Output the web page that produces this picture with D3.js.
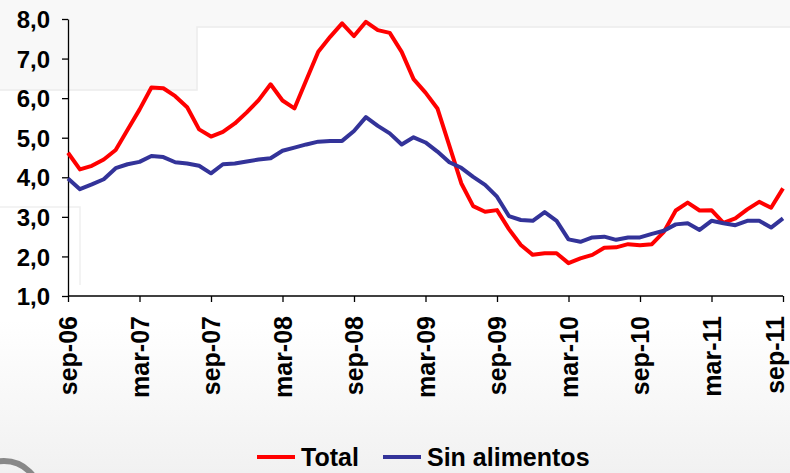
<!DOCTYPE html>
<html><head><meta charset="utf-8">
<script src="https://cdn.jsdelivr.net/npm/d3@7"></script>
<style>body{margin:0;background:#fff}svg{display:block}text{font-family:"Liberation Sans",Arial,sans-serif;font-weight:bold;fill:#000}</style>
</head><body><div id="c"></div>
<script>
const months = ["ene","feb","mar","abr","may","jun","jul","ago","sep","oct","nov","dic"];
const startYear = 2006, startMonth = 8; // sep-06
const total = [4.62,4.20,4.29,4.45,4.69,5.20,5.71,6.27,6.25,6.05,5.77,5.21,5.03,5.15,5.36,5.64,5.95,6.35,5.94,5.74,
  6.46,7.17,7.55,7.89,7.57,7.93,7.72,7.65,7.17,6.48,6.14,5.74,4.80,3.85,3.27,3.13,3.17,2.69,2.29,2.04,
  2.08,2.08,1.83,1.95,2.04,2.22,2.23,2.31,2.28,2.31,2.62,3.16,3.36,3.16,3.17,2.85,2.96,3.19,3.38,3.23,3.72];
const sinAlimentos = [3.97,3.70,3.82,3.95,4.23,4.33,4.39,4.54,4.51,4.38,4.35,4.29,4.10,4.33,4.35,4.40,4.45,4.48,4.67,4.75,
  4.83,4.90,4.92,4.92,5.17,5.52,5.30,5.11,4.83,5.01,4.88,4.65,4.38,4.24,4.01,3.81,3.51,3.02,2.92,2.90,
  3.12,2.90,2.43,2.37,2.48,2.50,2.42,2.48,2.48,2.57,2.65,2.81,2.84,2.67,2.90,2.84,2.79,2.90,2.90,2.73,2.96];
const categories = total.map((d,i)=>{const m=(startMonth+i)%12, y=startYear+Math.floor((startMonth+i)/12);return months[m]+"-"+String(y%100).padStart(2,"0");});
const xTickLabels = ["sep-06","mar-07","sep-07","mar-08","sep-08","mar-09","sep-09","mar-10","sep-10","mar-11","sep-11"];
const yTicks = [1,2,3,4,5,6,7,8];
const seriesNames = ["Total","Sin alimentos"];
const seriesColors = ["#ff0000","#333399"];

const W=790,H=473;
const svg=d3.select("#c").append("svg").attr("width",W).attr("height",H);
// faint slide background
const defs=svg.append("defs");
const g1=defs.append("linearGradient").attr("id","bg").attr("x1",0).attr("y1",0).attr("x2",0).attr("y2",1);
g1.append("stop").attr("offset","0").attr("stop-color","#ffffff");
g1.append("stop").attr("offset","1").attr("stop-color","#f1f1f1");
svg.append("rect").attr("x",0).attr("y",320).attr("width",W).attr("height",H-320).attr("fill","url(#bg)");
svg.append("rect").attr("x",0).attr("y",0).attr("width",W).attr("height",27).attr("fill","#f8f8f8");
svg.append("rect").attr("x",0).attr("y",0).attr("width",197).attr("height",90).attr("fill","#f8f8f8");
svg.append("path").attr("d","M0,90H197V27H790").attr("fill","none").attr("stroke","#ececec").attr("stroke-width",1.5);
svg.append("path").attr("d","M0,207H80V285").attr("fill","none").attr("stroke","#f0f0f0").attr("stroke-width",1.5);
svg.append("circle").attr("cx",4).attr("cy",497).attr("r",36).attr("fill","none").attr("stroke","#888").attr("stroke-width",6);

const x=d3.scalePoint().domain(categories).range([68,783]);
const y=d3.scaleLinear().domain([1,8]).range([296,19]);

// y axis
const ya=svg.append("g").attr("transform","translate(68,0)").call(d3.axisLeft(y).tickValues(yTicks).tickSize(6).tickSizeOuter(0).tickFormat(d=>d3.format(".1f")(d).replace(".",",")));
ya.select(".domain").attr("stroke","#000").attr("stroke-width",1.3);
ya.selectAll(".tick line").attr("stroke","#000").attr("stroke-width",1.3);
ya.selectAll(".tick text").attr("x",-18).attr("dy","0.36em").style("font-size","24px").style("font-family","Liberation Sans, Arial").style("font-weight","bold").attr("fill","#000");

// x axis
const xa=svg.append("g").attr("transform","translate(0,296)").call(d3.axisBottom(x).tickValues(xTickLabels).tickSize(6).tickSizeOuter(0));
xa.select(".domain").attr("stroke","#000").attr("stroke-width",1.3).attr("d","M68,0H783");
xa.selectAll(".tick line").attr("stroke","#000").attr("stroke-width",1.3);
xa.selectAll(".tick text").attr("transform",(d,i,n)=>i===n.length-1?"translate(-8,0) rotate(-90)":"rotate(-90)").attr("x",-20).attr("y",0).attr("dy","0.34em")
  .attr("text-anchor","end").style("font-size","25px").style("font-family","Liberation Sans, Arial").style("font-weight","bold").attr("fill","#000");

// lines
const line=d3.line().x((d,i)=>x(categories[i])).y(d=>y(d));
[total,sinAlimentos].forEach((s,k)=>{
  svg.append("path").datum(s).attr("d",line).attr("fill","none").attr("stroke",seriesColors[k]).attr("stroke-width",4).attr("stroke-linejoin","round");
});

// legend
const leg=svg.append("g").attr("transform","translate(0,457)");
const lx=[257,383];
seriesNames.forEach((n,k)=>{
  leg.append("line").attr("x1",lx[k]).attr("x2",lx[k]+38).attr("y1",0).attr("y2",0).attr("stroke",seriesColors[k]).attr("stroke-width",4);
  leg.append("text").attr("x",lx[k]+44).attr("y",0).attr("dy","0.36em").style("font-size","25px").text(n);
});
</script></body></html>
